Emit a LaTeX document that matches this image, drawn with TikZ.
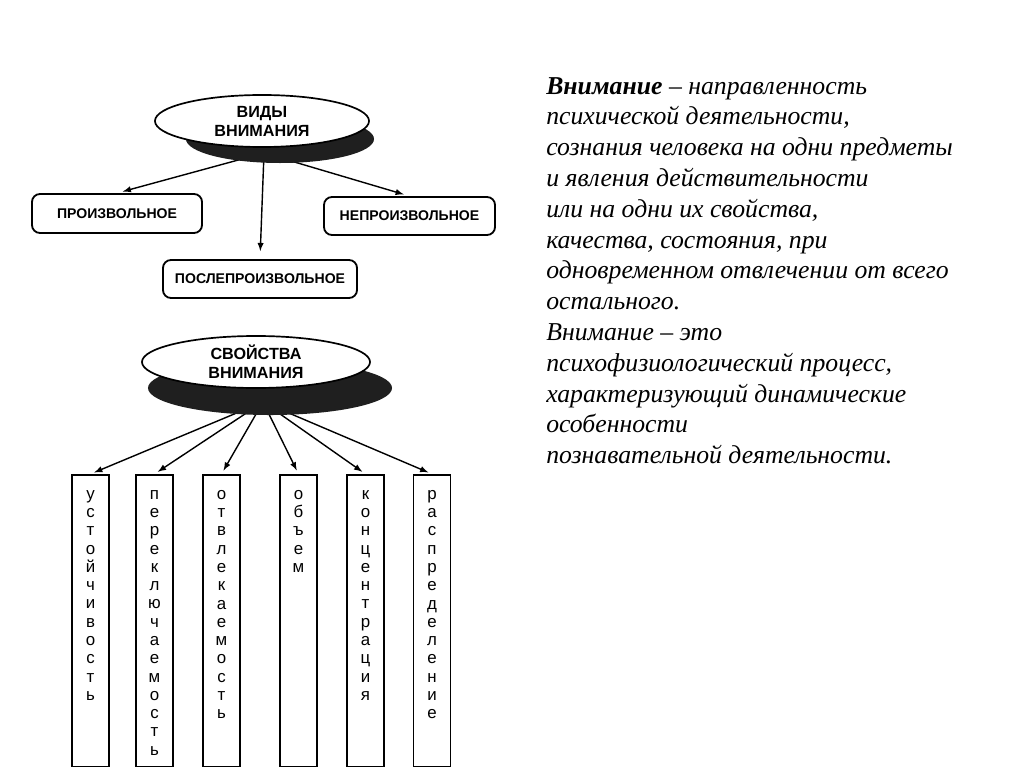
\documentclass[tikz,border=0pt]{standalone}
\usepackage{fontspec}
\setmainfont{Liberation Serif}
\newfontfamily\schemefont{Liberation Sans}
\usetikzlibrary{arrows,shapes.geometric}
\definecolor{ShadowClr}{rgb}{0.12,0.12,0.12}
\makeatletter
\newcommand\vertword[1]{\@tfor\vw@c:=#1\do{\vw@c\par}}
\makeatother

\begin{document}
\begin{tikzpicture}[x=0.025cm,y=-0.025cm,
  kind/.style={draw,rounded corners=0.2cm,line width=1.3pt,inner sep=0pt,
    font=\schemefont\bfseries\fontsize{10}{12}\selectfont},
  shade/.style={ellipse,fill=ShadowClr,inner sep=0pt,outer sep=0pt},
  oval/.style={ellipse,draw,fill=white,line width=1.2pt,inner sep=0pt,align=center,
    font=\schemefont\bfseries\fontsize{11.5}{13.5}\selectfont},
  colbox/.style={draw,line width=1.4pt,anchor=north,minimum width=0.925cm,
    minimum height=7.3cm,inner sep=0pt},
  letters/.style={anchor=north,text width=0.6cm,align=center,inner sep=0pt,
    font=\schemefont\fontsize{12}{13}\selectfont},
  link/.style={-latex,line width=1pt,shorten >=0.15cm}]
\useasboundingbox (0,0) rectangle (1024,767);

\node[kind,minimum width=4.25cm,minimum height=0.975cm] (pro) at (117,213.5) {ПРОИЗВОЛЬНОЕ};
\node[kind,minimum width=4.275cm,minimum height=0.95cm] (nepro) at (409.5,216) {НЕПРОИЗВОЛЬНОЕ};
\node[kind,minimum width=4.85cm,minimum height=0.95cm] (poslepro) at (260,279) {ПОСЛЕПРОИЗВОЛЬНОЕ};

\node[colbox] (c1) at (90.5,474) {};
\node[colbox] (c2) at (154.5,474) {};
\node[colbox] (c3) at (221.5,474) {};
\node[colbox] (c4) at (298.5,474) {};
\node[colbox] (c5) at (365.5,474) {};
\node[colbox] (c6) at (432,474) {};
\node[letters] (w1) at ([yshift=-0.4cm]c1.north) {\vertword{устойчивость}};
\node[letters] (w2) at ([yshift=-0.4cm]c2.north) {\vertword{переключаемость}};
\node[letters] (w3) at ([yshift=-0.4cm]c3.north) {\vertword{отвлекаемость}};
\node[letters] (w4) at ([yshift=-0.4cm]c4.north) {\vertword{объем}};
\node[letters] (w5) at ([yshift=-0.4cm]c5.north) {\vertword{концентрация}};
\node[letters] (w6) at ([yshift=-0.4cm]c6.north) {\vertword{распределение}};

\coordinate (vidfoot) at (264,153);
\coordinate (svofoot) at (263,402);

\draw[link] (vidfoot) -- (pro.north);
\draw[link,shorten >=0.2cm] (vidfoot) -- (poslepro.north);
\draw[link] (vidfoot) -- (nepro.north);
\draw[link,shorten >=0.1cm] (svofoot) -- (c1.north);
\draw[link,shorten >=0.1cm] (svofoot) -- (c2.north);
\draw[link,shorten >=0.1cm] (svofoot) -- (c3.north);
\draw[link,shorten >=0.1cm] (svofoot) -- (c4.north);
\draw[link,shorten >=0.1cm] (svofoot) -- (c5.north);
\draw[link,shorten >=0.1cm] (svofoot) -- (c6.north);

\node[shade,minimum width=4.7cm,minimum height=1.2cm] (vidsh) at (280,139) {};
\node[oval,minimum width=5.35cm,minimum height=1.3cm] (vid) at (262,121) {ВИДЫ\\ВНИМАНИЯ};
\node[shade,minimum width=6.1cm,minimum height=1.35cm] (svosh) at (270,388) {};
\node[oval,minimum width=5.7cm,minimum height=1.3cm] (svo) at (256,362) {СВОЙСТВА\\ВНИМАНИЯ};

\node[anchor=north west,inner sep=0pt,align=left,
  font=\itshape\fontsize{18.3}{21.9}\selectfont] (def) at (546,77)
  {\textbf{Внимание} – направленность\\
   психической деятельности,\\
   сознания человека на одни предметы\\
   и явления действительности\\
   или на одни их свойства,\\
   качества, состояния, при\\
   одновременном отвлечении от всего\\
   остального.\\
   Внимание – это\\
   психофизиологический процесс,\\
   характеризующий динамические\\
   особенности\\
   познавательной деятельности.};
\end{tikzpicture}
\end{document}
